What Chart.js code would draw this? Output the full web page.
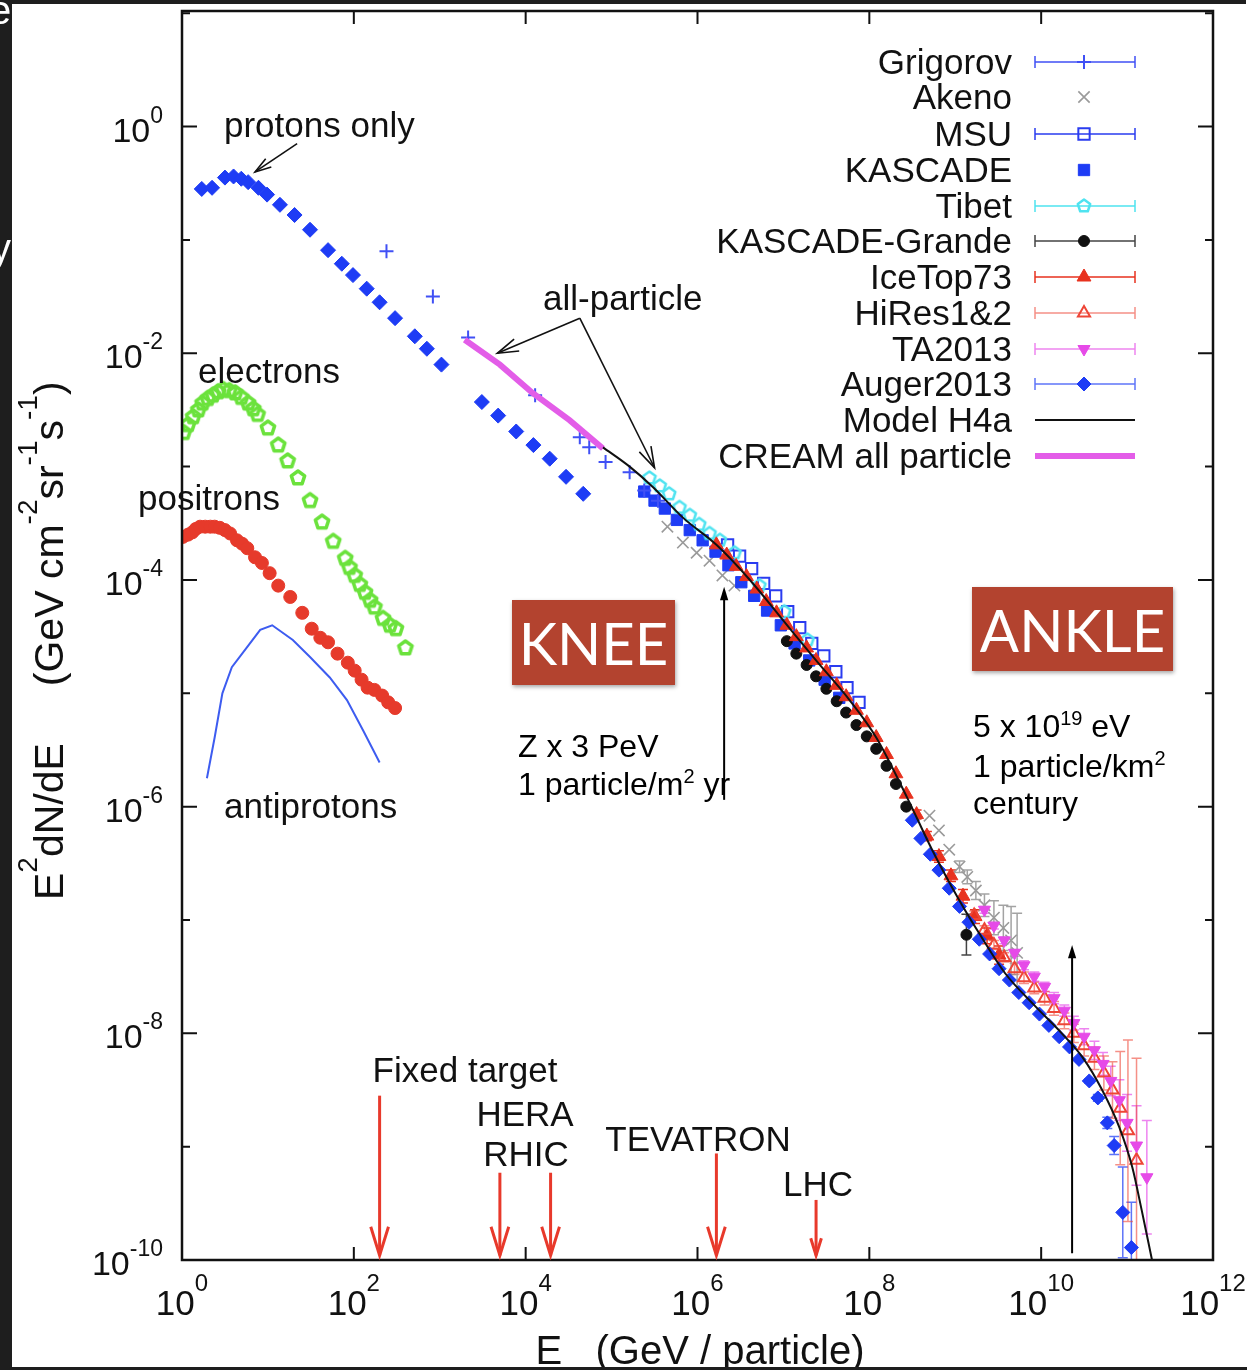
<!DOCTYPE html>
<html>
<head>
<meta charset="utf-8">
<script src="https://cdn.jsdelivr.net/npm/chart.js@4.4.1/dist/chart.umd.min.js"></script>
<style>
  html, body { margin: 0; padding: 0; background: #fff; }
  canvas { display: block; }
</style>
</head>
<body>
<canvas id="spectrum" width="1259" height="1370"></canvas>
<script>
'use strict';

// all values are log10: x = log10(E / GeV), y = log10(E^2 dN/dE)
const protonsLogE = [0.23,0.35,0.50,0.60,0.69,0.77,0.89,0.99,1.14,1.31,1.49,1.70,1.86,1.99,2.15,2.30,2.48,2.71,2.85,3.02,3.49,3.68,3.89,4.09,4.28,4.47,4.67];
const protonsLogF = [-0.55,-0.54,-0.45,-0.44,-0.46,-0.49,-0.54,-0.60,-0.69,-0.78,-0.91,-1.09,-1.21,-1.31,-1.43,-1.55,-1.69,-1.85,-1.96,-2.10,-2.43,-2.55,-2.69,-2.81,-2.93,-3.09,-3.24];

const electronsLogE = [0.02,0.07,0.13,0.19,0.24,0.30,0.36,0.42,0.48,0.55,0.62,0.69,0.77,0.83,0.88,1.00,1.12,1.23,1.35,1.49,1.63,1.76,1.90,1.95,2.01,2.07,2.13,2.19,2.24,2.34,2.42,2.49,2.60];
const electronsLogF = [-2.70,-2.63,-2.56,-2.50,-2.44,-2.40,-2.37,-2.34,-2.32,-2.33,-2.35,-2.39,-2.44,-2.49,-2.54,-2.66,-2.81,-2.95,-3.10,-3.30,-3.49,-3.66,-3.81,-3.89,-3.96,-4.04,-4.11,-4.18,-4.24,-4.34,-4.40,-4.43,-4.60];

const positronsLogE = [0.01,0.07,0.12,0.16,0.21,0.27,0.33,0.38,0.44,0.50,0.56,0.64,0.70,0.76,0.85,0.93,1.02,1.12,1.26,1.40,1.51,1.61,1.70,1.81,1.93,2.01,2.09,2.16,2.24,2.33,2.40,2.48];
const positronsLogF = [-3.62,-3.60,-3.58,-3.55,-3.53,-3.53,-3.53,-3.53,-3.54,-3.56,-3.59,-3.65,-3.68,-3.72,-3.80,-3.85,-3.94,-4.05,-4.15,-4.29,-4.43,-4.51,-4.55,-4.65,-4.73,-4.80,-4.88,-4.95,-4.97,-5.02,-5.08,-5.13];

const antiprotonsLogE = [0.29,0.38,0.47,0.58,0.76,0.91,1.05,1.29,1.49,1.72,1.92,2.11,2.30];
const antiprotonsLogF = [-5.75,-5.39,-5.00,-4.77,-4.59,-4.44,-4.40,-4.53,-4.68,-4.86,-5.06,-5.33,-5.61];

const grigorovLogE = [2.38,2.92,3.33,4.11,4.63,4.74,4.93,5.21,5.38,5.54];
const grigorovLogF = [-1.10,-1.50,-1.86,-2.37,-2.74,-2.83,-2.96,-3.05,-3.21,-3.30];

const akenoLogE = [5.65,5.83,5.99,6.14,6.29,6.43,8.70,8.81,8.93,9.05,9.14,9.24,9.34,9.45,9.56,9.65,9.72];
const akenoLogF = [-3.53,-3.67,-3.76,-3.83,-3.96,-4.05,-6.08,-6.21,-6.38,-6.53,-6.62,-6.74,-6.87,-6.98,-7.07,-7.18,-7.29];
const akenoErr  = [0,0,0,0,0,0,0,0,0,0.05,0.06,0.08,0.1,0.15,0.2,0.3,0.35];

const msuLogE = [6.35,6.49,6.63,6.77,6.91,7.05,7.19,7.33,7.47,7.61,7.74,7.88];
const msuLogF = [-3.69,-3.79,-3.90,-4.03,-4.14,-4.28,-4.42,-4.56,-4.67,-4.81,-4.95,-5.08];

const kascadeLogE = [5.38,5.50,5.62,5.76,5.91,6.06,6.21,6.36,6.51,6.66,6.81,6.97,7.13,7.30,7.48,7.65];
const kascadeLogF = [-3.22,-3.30,-3.37,-3.47,-3.56,-3.65,-3.75,-3.87,-4.02,-4.14,-4.27,-4.40,-4.56,-4.71,-4.88,-5.04];

const tibetLogE = [5.44,5.56,5.67,5.79,5.91,6.02,6.14,6.26,6.43,6.72,7.01,7.28];
const tibetLogF = [-3.10,-3.17,-3.24,-3.36,-3.43,-3.51,-3.59,-3.65,-3.76,-4.05,-4.28,-4.53];

const grandeLogE = [7.04,7.15,7.27,7.38,7.50,7.62,7.73,7.85,7.97,8.08,8.20,8.31,8.43,9.13];
const grandeLogF = [-4.54,-4.65,-4.75,-4.85,-4.96,-5.07,-5.17,-5.28,-5.38,-5.49,-5.64,-5.80,-6.00,-7.13];
const grandeErr  = [0,0,0,0,0,0,0,0,0,0,0,0,0,0.18];

const icetopLogE = [6.22,6.34,6.45,6.57,6.69,6.80,6.92,7.04,7.15,7.27,7.38,7.50,7.62,7.73,7.85,7.97,8.08,8.20,8.31,8.43,8.55,8.67,8.81,8.95,9.09,9.23,9.37,9.51];
const icetopLogF = [-3.69,-3.78,-3.88,-3.97,-4.08,-4.19,-4.29,-4.40,-4.50,-4.60,-4.71,-4.81,-4.93,-5.03,-5.15,-5.26,-5.39,-5.54,-5.71,-5.89,-6.07,-6.26,-6.44,-6.61,-6.79,-6.97,-7.14,-7.31];
const icetopErr  = [0,0,0,0,0,0,0,0,0,0,0,0,0,0,0,0,0,0,0,0,0.04,0.04,0.05,0.05,0.06,0.06,0.07,0.08];

const hiresLogE = [9.22,9.34,9.45,9.57,9.69,9.80,9.92,10.04,10.15,10.27,10.38,10.50,10.62,10.73,10.83,10.92,11.01,11.11];
const hiresLogF = [-6.96,-7.09,-7.22,-7.33,-7.43,-7.51,-7.60,-7.69,-7.78,-7.89,-8.00,-8.11,-8.22,-8.35,-8.50,-8.66,-8.86,-9.12];
const hiresErr  = [0.04,0.04,0.04,0.04,0.05,0.05,0.05,0.06,0.06,0.07,0.08,0.09,0.1,0.15,0.25,0.5,0.8,0.9];

const taLogE = [9.34,9.45,9.57,9.69,9.80,9.92,10.04,10.15,10.27,10.38,10.50,10.62,10.72,10.81,10.91,11.00,11.11,11.23];
const taLogF = [-6.91,-7.05,-7.18,-7.29,-7.40,-7.50,-7.59,-7.69,-7.80,-7.91,-8.03,-8.15,-8.27,-8.42,-8.59,-8.79,-8.99,-9.27];
const taErr  = [0.03,0.03,0.03,0.03,0.04,0.04,0.04,0.05,0.05,0.06,0.07,0.08,0.1,0.13,0.18,0.25,0.35,0.5];

const augerLogE = [8.50,8.60,8.71,8.81,8.93,9.05,9.16,9.28,9.40,9.51,9.63,9.74,9.86,9.98,10.09,10.21,10.33,10.44,10.56,10.66,10.77,10.85,10.95,11.05];
const augerLogF = [-6.12,-6.28,-6.42,-6.56,-6.72,-6.88,-7.02,-7.17,-7.30,-7.43,-7.53,-7.64,-7.73,-7.83,-7.93,-8.03,-8.12,-8.23,-8.42,-8.57,-8.79,-8.99,-9.58,-9.89];
const augerErr  = [0,0,0,0,0,0,0,0,0,0,0,0,0,0,0,0,0,0,0.02,0.03,0.05,0.08,0.4,0.4];

const modelLogE = [4.90,5.21,5.48,5.83,6.22,6.61,6.99,7.38,7.77,8.08,8.44,8.73,9.05,9.28,9.58,9.93,10.24,10.48,10.71,10.91,11.06,11.17,11.29];
const modelLogF = [-2.83,-3.00,-3.18,-3.45,-3.69,-4.00,-4.35,-4.71,-5.06,-5.39,-5.92,-6.38,-6.83,-7.12,-7.47,-7.76,-8.00,-8.21,-8.50,-8.83,-9.18,-9.56,-10.00];

const creamLogE = [3.29,3.70,4.08,4.51,4.90];
const creamLogF = [-1.88,-2.10,-2.35,-2.59,-2.84];

// axis ticks (exponents)
const xTickExps = [0, 2, 4, 6, 8, 10, 12];
const yTickExps = [0, -2, -4, -6, -8, -10];
const yMinorExps = [1, -1, -3, -5, -7, -9];

// accelerator reach arrows
const accelNames = ['Fixed target', 'HERA', 'RHIC', 'TEVATRON', 'LHC'];
const accelLogE = [2.30, 3.70, 4.29, 6.22, 7.38];
const accelTopLogF = [-8.55, -9.23, -9.23, -9.06, -9.47];

const legendNames = ['Grigorov', 'Akeno', 'MSU', 'KASCADE', 'Tibet', 'KASCADE-Grande', 'IceTop73', 'HiRes1&2', 'TA2013', 'Auger2013', 'Model H4a', 'CREAM all particle'];

const SANS = '"Liberation Sans", Arial, Helvetica, sans-serif';

function pts(xs, ys) {
    return xs.map((v, i) => ({ x: v, y: ys[i] }));
}

// open pentagon marker used by electrons and Tibet
function pentagon(color, r, lw) {
    const c = document.createElement('canvas');
    const s = Math.ceil(2 * r + lw + 2);
    c.width = s; c.height = s;
    const g = c.getContext('2d');
    g.strokeStyle = color; g.lineWidth = lw; g.lineJoin = 'round';
    g.beginPath();
    for (let i = 0; i < 5; i++) {
        const a = -Math.PI / 2 + i * 2 * Math.PI / 5;
        const px = s / 2 + r * Math.cos(a), py = s / 2 + r * Math.sin(a);
        if (i) g.lineTo(px, py); else g.moveTo(px, py);
    }
    g.closePath(); g.stroke();
    return c;
}

function scatterSet(label, data, style, color, opts) {
    return Object.assign({
        label: label,
        data: data,
        pointStyle: style,
        pointRadius: 6,
        pointHoverRadius: 6,
        backgroundColor: color,
        borderColor: color,
        borderWidth: 1,
        showLine: false
    }, opts || {});
}

// text with superscripts: parts = [text, size, dy]
function richText(ctx, x, y, parts, align) {
    let w = 0;
    parts.forEach(p => { ctx.font = p[1] + 'px ' + SANS; w += ctx.measureText(p[0]).width; });
    let cx = align === 'right' ? x - w : (align === 'center' ? x - w / 2 : x);
    ctx.textAlign = 'left';
    ctx.textBaseline = 'alphabetic';
    parts.forEach(p => {
        ctx.font = p[1] + 'px ' + SANS;
        ctx.fillText(p[0], cx, y + (p[2] || 0));
        cx += ctx.measureText(p[0]).width;
    });
}

function arrowLine(ctx, x1, y1, x2, y2, head, filled) {
    const ang = Math.atan2(y2 - y1, x2 - x1);
    ctx.beginPath();
    ctx.moveTo(x1, y1);
    ctx.lineTo(filled ? x2 - Math.cos(ang) * head * 0.8 : x2, filled ? y2 - Math.sin(ang) * head * 0.8 : y2);
    ctx.stroke();
    const a1 = ang + Math.PI - 0.3, a2 = ang + Math.PI + 0.3;
    ctx.beginPath();
    ctx.moveTo(x2 + Math.cos(a1) * head, y2 + Math.sin(a1) * head);
    ctx.lineTo(x2, y2);
    ctx.lineTo(x2 + Math.cos(a2) * head, y2 + Math.sin(a2) * head);
    if (filled) { ctx.closePath(); ctx.fill(); } else { ctx.stroke(); }
}

const errorBars = {
    id: 'errorBars',
    beforeDatasetsDraw(chart) {
        const { ctx, chartArea: a, scales: { x, y } } = chart;
        ctx.save();
        ctx.beginPath(); ctx.rect(a.left, a.top, a.right - a.left, a.bottom - a.top); ctx.clip();
        chart.data.datasets.forEach(ds => {
            if (!ds.errs) return;
            ctx.strokeStyle = ds.errColor || ds.borderColor;
            ctx.lineWidth = 1.5;
            ds.data.forEach((p, i) => {
                const e = ds.errs[i];
                if (!e) return;
                const px = x.getPixelForValue(p.x);
                const y1 = y.getPixelForValue(p.y + e), y2 = y.getPixelForValue(p.y - e);
                ctx.beginPath();
                ctx.moveTo(px, y1); ctx.lineTo(px, y2);
                ctx.moveTo(px - 5, y1); ctx.lineTo(px + 5, y1);
                ctx.moveTo(px - 5, y2); ctx.lineTo(px + 5, y2);
                ctx.stroke();
            });
        });
        ctx.restore();
    }
};

const background = {
    id: 'background',
    beforeDraw(chart) {
        const ctx = chart.ctx;
        ctx.save();
        ctx.fillStyle = '#ffffff';
        ctx.fillRect(0, 0, chart.width, chart.height);
        ctx.restore();
    }
};

const frame = {
    id: 'frame',
    afterDatasetsDraw(chart) {
        const { ctx, chartArea: a, scales: { x, y } } = chart;
        ctx.save();
        ctx.strokeStyle = '#111';
        ctx.lineWidth = 2.5;
        ctx.strokeRect(a.left, a.top, a.right - a.left, a.bottom - a.top);
        ctx.lineWidth = 2;
        ctx.beginPath();
        yTickExps.concat(yMinorExps).forEach(v => {
            const py = y.getPixelForValue(v);
            if (py <= a.top + 1 || py >= a.bottom - 1) return;
            const len = v % 2 === 0 ? 15 : 8;
            ctx.moveTo(a.left, py); ctx.lineTo(a.left + len, py);
            ctx.moveTo(a.right, py); ctx.lineTo(a.right - len, py);
        });
        xTickExps.forEach(v => {
            const px = x.getPixelForValue(v);
            if (px <= a.left + 1 || px >= a.right - 1) return;
            ctx.moveTo(px, a.bottom); ctx.lineTo(px, a.bottom - 13);
            ctx.moveTo(px, a.top); ctx.lineTo(px, a.top + 13);
        });
        ctx.stroke();
        ctx.restore();
    }
};

const annotations = {
    id: 'annotations',
    afterDraw(chart) {
        const { ctx, chartArea: a, scales: { x, y } } = chart;
        const ink = '#111';
        ctx.save();
        ctx.fillStyle = ink;

        // tick labels
        xTickExps.forEach(v => {
            richText(ctx, x.getPixelForValue(v), 1315, [['10', 35, 0], [String(v), 24, -24]], 'center');
        });
        yTickExps.forEach(v => {
            const py = y.getPixelForValue(v);
            richText(ctx, 163, py + 15, [['10', 34, 0], [String(v), 23, -19]], 'right');
        });

        // axis titles
        richText(ctx, 700, 1364, [['E', 40, 0], ['   (GeV / particle)', 40, 0]], 'center');
        ctx.save();
        ctx.translate(63, 900);
        ctx.rotate(-Math.PI / 2);
        richText(ctx, 0, 0, [['E', 41, 0], ['2', 28, -26], ['dN/dE', 41, 0], ['     ', 41, 0], ['(GeV cm', 41, 0], ['-2', 28, -26], ['sr', 41, 0], ['-1', 28, -26], ['s', 41, 0], ['-1', 28, -26], [')', 41, 0]], 'left');
        ctx.restore();

        // curve labels
        richText(ctx, 224, 137, [['protons only', 35, 0]], 'left');
        richText(ctx, 198, 383, [['electrons', 35, 0]], 'left');
        richText(ctx, 138, 510, [['positrons', 35, 0]], 'left');
        richText(ctx, 224, 818, [['antiprotons', 35, 0]], 'left');
        richText(ctx, 543, 310, [['all-particle', 35, 0]], 'left');

        ctx.strokeStyle = ink;
        ctx.lineWidth = 1.6;
        arrowLine(ctx, x.getPixelForValue(1.34), y.getPixelForValue(-0.15), x.getPixelForValue(0.85), y.getPixelForValue(-0.40), 17, false);
        arrowLine(ctx, x.getPixelForValue(4.63), y.getPixelForValue(-1.69), x.getPixelForValue(3.67), y.getPixelForValue(-2.00), 22, false);
        arrowLine(ctx, x.getPixelForValue(4.63), y.getPixelForValue(-1.69), x.getPixelForValue(5.50), y.getPixelForValue(-3.01), 22, false);

        // accelerators
        const textY = [1082, 1126, 1166, 1151, 1196];
        const textX = [465, 525, 526, 698, 818];
        accelNames.forEach((n, i) => richText(ctx, textX[i], textY[i], [[n, 35, 0]], 'center'));
        ctx.strokeStyle = '#e8392b';
        ctx.fillStyle = '#e8392b';
        ctx.lineWidth = 3;
        accelLogE.forEach((v, i) => {
            const px = x.getPixelForValue(v);
            arrowLine(ctx, px, y.getPixelForValue(accelTopLogF[i]), px, y.getPixelForValue(-9.96), i === 4 ? 18 : 30, false);
        });

        // knee / ankle boxes
        ctx.save();
        ctx.shadowColor = 'rgba(0,0,0,0.35)';
        ctx.shadowBlur = 4;
        ctx.shadowOffsetX = 1;
        ctx.shadowOffsetY = 2;
        ctx.fillStyle = '#b3432f';
        ctx.fillRect(512, 600, 163, 85);
        ctx.fillRect(972, 587, 201, 84);
        ctx.restore();
        ctx.fillStyle = '#ffffff';
        ctx.font = '58px Lato, "Open Sans", sans-serif';
        ctx.textAlign = 'center';
        ctx.textBaseline = 'alphabetic';
        ctx.fillText('KNEE', 593.5, 665);
        ctx.fillText('ANKLE', 1072.5, 652);

        ctx.fillStyle = '#000';
        richText(ctx, 518, 757, [['Z x 3 PeV', 32, 0]], 'left');
        richText(ctx, 518, 795, [['1 particle/m', 32, 0], ['2', 20, -12], [' yr', 32, 0]], 'left');
        richText(ctx, 973, 737, [['5 x 10', 32, 0], ['19', 20, -12], [' eV', 32, 0]], 'left');
        richText(ctx, 973, 777, [['1 particle/km', 32, 0], ['2', 20, -12]], 'left');
        richText(ctx, 973, 814, [['century', 32, 0]], 'left');

        ctx.strokeStyle = '#000';
        ctx.lineWidth = 2;
        arrowLine(ctx, x.getPixelForValue(6.31), y.getPixelForValue(-5.94), x.getPixelForValue(6.31), y.getPixelForValue(-4.06), 14, true);
        arrowLine(ctx, x.getPixelForValue(10.36), y.getPixelForValue(-9.94), x.getPixelForValue(10.36), y.getPixelForValue(-7.22), 14, true);

        // legend
        const rowY = [62, 97, 134, 170, 206, 241, 277, 313, 349, 384, 420, 456];
        legendNames.forEach((name, i) => {
            const ds = chart.data.datasets.find(d => d.label === name);
            const ry = rowY[i];
            ctx.fillStyle = ink;
            richText(ctx, 1012, ry + 12, [[name, 35, 0]], 'right');
            if (!ds) return;
            ctx.save();
            if (ds.showLine) {
                ctx.strokeStyle = ds.borderColor;
                ctx.lineWidth = ds.borderWidth;
                ctx.beginPath(); ctx.moveTo(1035, ry); ctx.lineTo(1135, ry); ctx.stroke();
            } else {
                if (ds.legendBar) {
                    ctx.strokeStyle = ds.errColor || ds.borderColor;
                    ctx.lineWidth = 1.5;
                    ctx.beginPath();
                    ctx.moveTo(1035, ry); ctx.lineTo(1135, ry);
                    ctx.moveTo(1035, ry - 6); ctx.lineTo(1035, ry + 6);
                    ctx.moveTo(1135, ry - 6); ctx.lineTo(1135, ry + 6);
                    ctx.stroke();
                }
                ctx.fillStyle = ds.backgroundColor;
                ctx.strokeStyle = ds.borderColor;
                ctx.lineWidth = ds.borderWidth;
                Chart.helpers.drawPoint(ctx, {
                    pointStyle: ds.pointStyle,
                    radius: ds.pointRadius,
                    rotation: ds.pointRotation || 0,
                    borderWidth: ds.borderWidth
                }, 1084, ry);
            }
            ctx.restore();
        });

        // slide margins
        ctx.fillStyle = '#ffffff';
        ctx.fillRect(1246, 0, 13, 1370);
        ctx.fillStyle = '#1e1e1e';
        ctx.fillRect(0, 0, 1246, 4);
        ctx.fillRect(0, 1367, 1247, 3);
        ctx.fillRect(0, 0, 12, 1370);
        ctx.save();
        ctx.beginPath(); ctx.rect(0, 0, 12, 1370); ctx.clip();
        ctx.fillStyle = '#ffffff';
        ctx.font = '40px ' + SANS;
        ctx.textAlign = 'left';
        ctx.fillText('e', -11, 24);
        ctx.fillText('y', -9, 262);
        ctx.restore();

        ctx.restore();
    }
};

const blue = '#1e3cf5';

const datasets = [
    scatterSet('Model H4a', pts(modelLogE, modelLogF), 'circle', '#111', { showLine: true, pointRadius: 0, borderWidth: 2, cubicInterpolationMode: 'monotone', order: 0 }),
    scatterSet('CREAM all particle', pts(creamLogE, creamLogF), 'circle', '#e35de8', { showLine: true, pointRadius: 0, borderWidth: 6, order: 1 }),
    scatterSet('Grigorov', pts(grigorovLogE, grigorovLogF), 'cross', '#4050f5', { pointRadius: 7, borderWidth: 2, legendBar: true, order: 2 }),
    scatterSet('Auger2013', pts(augerLogE, augerLogF), 'rectRot', blue, { pointRadius: 7, errs: augerErr, errColor: 'rgba(40,70,245,0.75)', legendBar: true, order: 3 }),
    scatterSet('TA2013', pts(taLogE, taLogF), 'triangle', '#e64ae8', { pointRadius: 7, pointRotation: 180, errs: taErr, errColor: 'rgba(230,80,232,0.7)', legendBar: true, order: 4 }),
    scatterSet('HiRes1&2', pts(hiresLogE, hiresLogF), 'triangle', '#ee4536', { pointRadius: 7, backgroundColor: 'rgba(255,255,255,0)', borderWidth: 2, errs: hiresErr, errColor: 'rgba(238,70,55,0.6)', legendBar: true, order: 5 }),
    scatterSet('IceTop73', pts(icetopLogE, icetopLogF), 'triangle', '#e8321f', { pointRadius: 8, errs: icetopErr, legendBar: true, order: 6 }),
    scatterSet('KASCADE-Grande', pts(grandeLogE, grandeLogF), 'circle', '#111', { pointRadius: 5.5, errs: grandeErr, errColor: '#444', legendBar: true, order: 7 }),
    scatterSet('Tibet', pts(tibetLogE, tibetLogF), pentagon('#4fe3f0', 6.5, 2.5), '#4fe3f0', { pointRadius: 7, backgroundColor: 'rgba(255,255,255,0)', borderWidth: 2, legendBar: true, order: 8 }),
    scatterSet('KASCADE', pts(kascadeLogE, kascadeLogF), 'rect', blue, { pointRadius: 8, order: 9 }),
    scatterSet('MSU', pts(msuLogE, msuLogF), 'rect', '#2a3cf0', { pointRadius: 8, backgroundColor: 'rgba(255,255,255,0)', borderWidth: 2, legendBar: true, order: 10 }),
    scatterSet('Akeno', pts(akenoLogE, akenoLogF), 'crossRot', '#9a9a9a', { pointRadius: 8, borderWidth: 1.6, errs: akenoErr, errColor: 'rgba(140,140,140,0.8)', order: 11 }),
    scatterSet('protons', pts(protonsLogE, protonsLogF), 'rectRot', blue, { pointRadius: 7.5, order: 12 }),
    scatterSet('electrons', pts(electronsLogE, electronsLogF), pentagon('#6be23c', 7, 3.5), '#6be23c', { pointRadius: 7, order: 13 }),
    scatterSet('positrons', pts(positronsLogE, positronsLogF), 'circle', '#e63a2b', { pointRadius: 6.5, order: 14 }),
    scatterSet('antiprotons', pts(antiprotonsLogE, antiprotonsLogF), 'circle', '#3d5cf0', { showLine: true, pointRadius: 0, borderWidth: 2, order: 15 })
];

const config = {
    type: 'scatter',
    data: { datasets: datasets },
    options: {
        responsive: false,
        animation: false,
        devicePixelRatio: 1,
        layout: { padding: { left: 182, top: 11, right: 46, bottom: 110 } },
        plugins: {
            legend: { display: false },
            tooltip: { enabled: false }
        },
        scales: {
            x: { type: 'linear', min: 0, max: 12, display: false },
            y: { type: 'linear', min: -10, max: 1.02, display: false }
        }
    },
    plugins: [background, errorBars, frame, annotations]
};

const spectrumChart = new Chart(document.getElementById('spectrum'), config);
</script>
</body>
</html>
